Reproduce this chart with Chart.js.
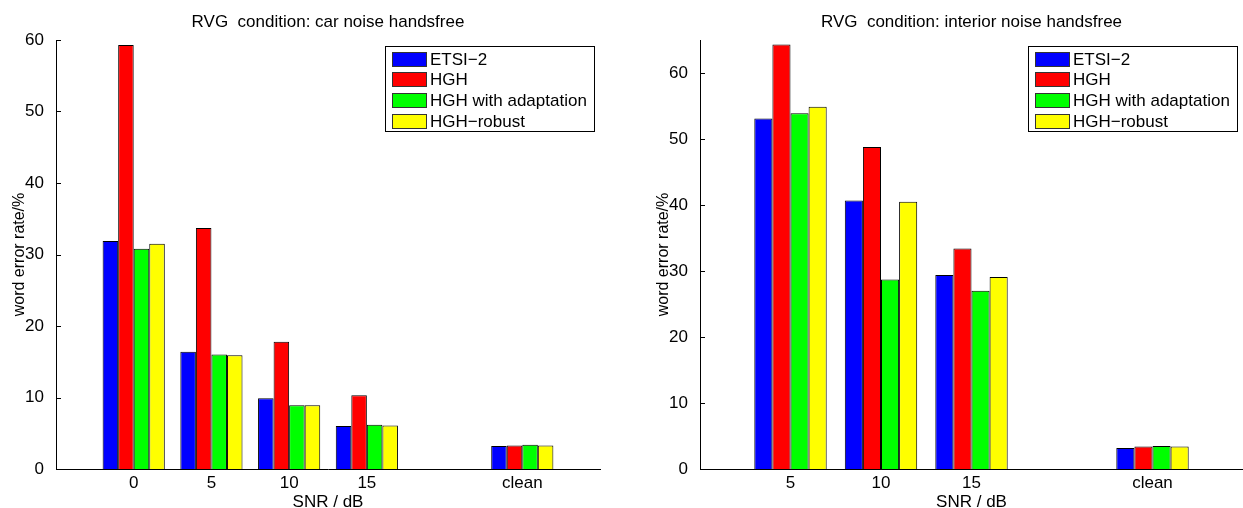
<!DOCTYPE html>
<html>
<head>
<meta charset="utf-8">
<script src="https://cdn.jsdelivr.net/npm/chart.js@4.4.1/dist/chart.umd.min.js"></script>
<style>
body { margin: 0; background: #fff; width: 1243px; height: 508px; overflow: hidden; position: relative; }
canvas { position: absolute; top: 0; }
#gauche { left: 0; }
#droite { left: 640px; }
</style>
</head>
<body>
<canvas id="gauche" width="640" height="508"></canvas>
<canvas id="droite" width="603" height="508"></canvas>
<script>
// series names (legend)
var seriesNames = ['ETSI\u22122', 'HGH', 'HGH with adaptation', 'HGH\u2212robust'];
var seriesColors = ['#0000ff', '#ff0000', '#00ff00', '#ffff00'];

// car noise handsfree (blank labels = empty slots of the x axis)
var carLabels = ['', '0', '5', '10', '15', '', 'clean', ''];
var carEtsi   = [null, 31.9, 16.4, 9.9, 6.0, null, 3.2, null];
var carHgh    = [null, 59.3, 33.7, 17.8, 10.3, null, 3.3, null];
var carAdapt  = [null, 30.8, 16.0, 8.9, 6.2, null, 3.4, null];
var carRobust = [null, 31.5, 15.9, 8.9, 6.1, null, 3.3, null];

// interior noise handsfree
var intLabels = ['', '5', '10', '15', '', 'clean', ''];
var intEtsi   = [null, 53.1, 40.7, 29.4, null, 3.2, null];
var intHgh    = [null, 64.3, 48.8, 33.4, null, 3.4, null];
var intAdapt  = [null, 53.9, 28.7, 27.0, null, 3.5, null];
var intRobust = [null, 54.9, 40.5, 29.1, null, 3.4, null];

var yTicksStep = 10;
var police = '"Liberation Sans", Arial, Helvetica, sans-serif';

Chart.defaults.font.family = police;
Chart.defaults.color = '#000';

function graphiqueMatlab(Id, labels, series, yMax, titre, largeurAxeY, padDroite) {
    var ctx = document.getElementById(Id).getContext('2d');

    var datasets = series.map(function(data, i) {
        return {
            label: seriesNames[i],
            data: data,
            backgroundColor: seriesColors[i],
            borderColor: '#000',
            borderWidth: 1
        };
    });

    // titre, petits traits de graduation vers l'interieur et legende (style matlab)
    var habillage = {
        id: 'habillage',
        afterDraw: function(chart) {
            var c = chart.ctx, area = chart.chartArea, sy = chart.scales.y;
            c.save();
            c.strokeStyle = '#000';
            c.lineWidth = 1;
            sy.ticks.forEach(function(t) {
                var py = Math.round(sy.getPixelForValue(t.value)) + 0.5;
                c.beginPath();
                c.moveTo(area.left, py);
                c.lineTo(area.left + 5, py);
                c.stroke();
            });

            c.fillStyle = '#000';
            c.font = '17px ' + police;
            c.textAlign = 'center';
            c.textBaseline = 'alphabetic';
            c.fillText(titre, (area.left + area.right) / 2, 27);

            var maxW = 0;
            chart.data.datasets.forEach(function(ds) {
                maxW = Math.max(maxW, c.measureText(ds.label).width);
            });
            var w = Math.round(45 + maxW + 7), h = 85;
            var x = Math.round(area.right - 6 - w), y = Math.round(area.top + 6);
            c.fillStyle = '#fff';
            c.fillRect(x, y, w, h);
            c.strokeRect(x + 0.5, y + 0.5, w, h);
            c.textAlign = 'left';
            c.textBaseline = 'middle';
            chart.data.datasets.forEach(function(ds, i) {
                var cy = Math.round(y + 12.5 + i * 20.8);
                c.fillStyle = ds.backgroundColor;
                c.fillRect(x + 7, cy - 7, 34, 14);
                c.strokeStyle = '#333';
                c.strokeRect(x + 7.5, cy - 6.5, 34, 14);
                c.fillStyle = '#000';
                c.fillText(ds.label, x + 45, cy + 1);
            });
            c.restore();
        }
    };

    return new Chart(ctx, {
        type: 'bar',
        data: { labels: labels, datasets: datasets },
        plugins: [habillage],
        options: {
            responsive: false,
            animation: false,
            layout: { padding: { top: 40, right: padDroite, left: 0, bottom: 0 } },
            datasets: { bar: { categoryPercentage: 0.8, barPercentage: 1.0 } },
            plugins: { legend: { display: false }, tooltip: { enabled: false } },
            scales: {
                x: {
                    offset: false,
                    grid: { display: false },
                    border: { display: true, color: '#000', width: 1 },
                    ticks: { autoSkip: false, maxRotation: 0, padding: -4, font: { size: 17 } },
                    title: { display: true, text: 'SNR / dB', font: { size: 17 }, padding: { top: 0, bottom: -5 } },
                    afterFit: function(scale) { scale.height = 39; }
                },
                y: {
                    min: 0,
                    max: yMax,
                    grid: { display: false },
                    border: { display: true, color: '#000', width: 1 },
                    ticks: { stepSize: yTicksStep, includeBounds: false, padding: 4, font: { size: 17 } },
                    title: { display: true, text: 'word error rate/%', font: { size: 16 }, padding: { top: largeurAxeY - 46, bottom: 0 } },
                    afterFit: function(scale) { scale.width = largeurAxeY; }
                }
            }
        }
    });
}

graphiqueMatlab('gauche', carLabels, [carEtsi, carHgh, carAdapt, carRobust], 60,
    'RVG  condition: car noise handsfree', 56, 40);
graphiqueMatlab('droite', intLabels, [intEtsi, intHgh, intAdapt, intRobust], 65,
    'RVG  condition: interior noise handsfree', 60, -2);
</script>
</body>
</html>
